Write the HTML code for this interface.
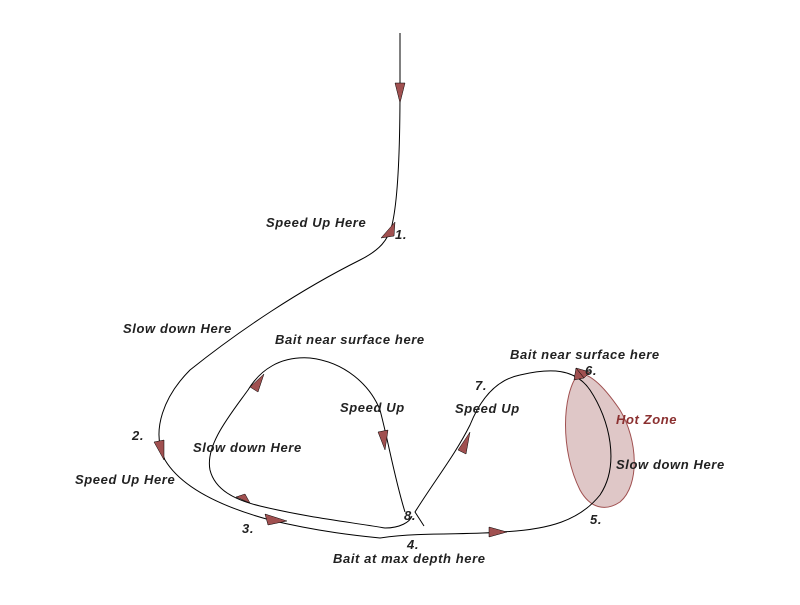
<!DOCTYPE html>
<html><head><style>
body{margin:0;background:#fff}
svg text{font-family:"Liberation Sans",sans-serif;font-style:italic;font-weight:bold;font-size:13px;letter-spacing:0.6px;fill:#222}
</style></head><body>
<svg width="800" height="600" viewBox="0 0 800 600" xmlns="http://www.w3.org/2000/svg">
<path d="M578,374 C562,395 560,450 580,490 C590,508 605,512 620,502 C640,485 638,440 620,410 C605,388 590,372 578,374 Z" fill="#dfc7c7" stroke="#a05050" stroke-width="1"/>
<g fill="none" stroke="#000" stroke-width="1">
<path d="M400,33 L400,90 C400,150 398,200 392,225 C388,240 380,250 360,260 C300,290 240,330 190,370 C165,395 150,430 165,460 C180,485 215,505 270,520 C320,532 360,536 380,538 C420,532 470,535 500,532 C550,530 580,520 600,495 C620,465 610,420 590,390 C575,368 550,368 520,375 C495,380 480,400 470,425 C455,455 435,480 415,512 L424,526"/>
<path d="M405,512 C395,480 388,440 380,410 C370,385 345,362 310,358 C280,356 260,370 248,390 C230,415 205,445 210,470 C215,490 235,500 260,506 C310,518 350,522 385,528 C400,528 410,522 412,516"/>
</g>
<g fill="#a05050" stroke="#000" stroke-width="0.5">
<polygon points="395,83 405,83 400,103"/>
<polygon points="381,238 395,222 394,236"/>
<polygon points="154,442 164,440 164,460"/>
<polygon points="265,514 268,525 287,521"/>
<polygon points="489,527 489,537 507,532"/>
<polygon points="576,368 590,372 584,378"/>
<polygon points="584,378 576,368 574,380" />
<polygon points="245,494 250,503 236,497"/>
<polygon points="250,387 258,392 264,374"/>
<polygon points="378,432 388,430 385,450"/>
<polygon points="458,450 466,454 470,432"/>
</g>
<text x="266" y="227">Speed Up Here</text>
<text x="395" y="239">1.</text>
<text x="123" y="333">Slow down Here</text>
<text x="275" y="344">Bait near surface here</text>
<text x="510" y="359">Bait near surface here</text>
<text x="585" y="375">6.</text>
<text x="475" y="390">7.</text>
<text x="340" y="412">Speed Up</text>
<text x="455" y="413">Speed Up</text>
<text x="616" y="424" style="fill:#8b3030">Hot Zone</text>
<text x="132" y="440">2.</text>
<text x="193" y="452">Slow down Here</text>
<text x="616" y="469">Slow down Here</text>
<text x="75" y="484">Speed Up Here</text>
<text x="404" y="520">8.</text>
<text x="590" y="524">5.</text>
<text x="242" y="533">3.</text>
<text x="407" y="549">4.</text>
<text x="333" y="563">Bait at max depth here</text>
</svg>
</body></html>
